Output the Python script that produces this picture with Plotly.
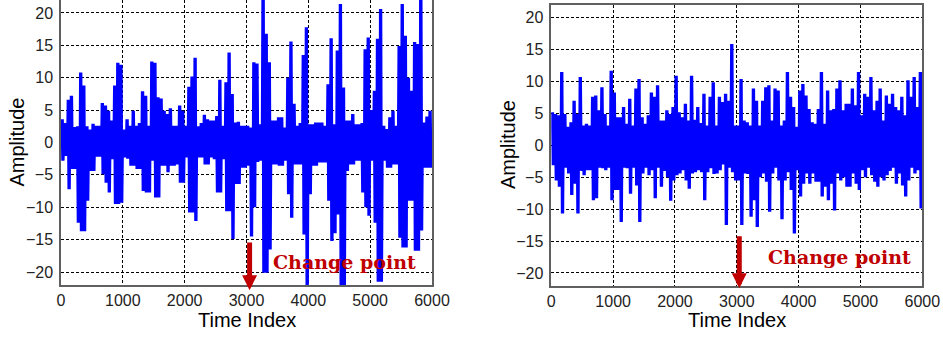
import plotly.graph_objects as go

# Time index axis: 6000 samples, envelopes read per 50-sample bin
BIN = 50
x_ticks = [0, 1000, 2000, 3000, 4000, 5000, 6000]
y_ticks = [-20, -15, -10, -5, 0, 5, 10, 15, 20]
change_point = 3050

# Left signal: per-bin upper / lower envelope (120 bins)
left_hi = [3.6, 3.0, 6.6, 7.2, 2.4, 2.5, 10.8, 8.8, 2.5, 2.0,
           2.9, 2.6, 2.6, 6.1, 5.7, 4.9, 3.4, 8.8, 12.3, 12.0,
           2.0, 3.6, 2.6, 4.9, 2.6, 3.0, 7.9, 7.2, 2.6, 12.5,
           12.3, 7.0, 6.8, 4.9, 4.4, 5.3, 2.6, 2.6, 5.7, 4.9,
           2.6, 8.6, 10.2, 13.1, 2.5, 3.0, 4.3, 3.6, 3.4, 3.4,
           4.1, 9.7, 2.6, 9.3, 13.9, 7.5, 3.1, 3.2, 2.6, 2.6,
           2.6, 2.3, 12.4, 12.2, 2.8, 25.0, 16.8, 12.4, 3.4, 3.4,
           3.9, 3.9, 2.3, 10.0, 15.6, 6.0, 2.6, 3.0, 13.5, 17.8,
           2.8, 2.8, 3.1, 3.1, 3.1, 2.6, 9.0, 16.1, 2.8, 14.2,
           21.4, 8.5, 3.4, 3.4, 4.4, 2.8, 2.8, 3.0, 14.4, 16.2,
           5.0, 8.0, 16.0, 20.6, 2.6, 2.1, 3.9, 4.9, 2.6, 14.9,
           21.4, 16.5, 10.0, 8.0, 15.5, 15.2, 25.0, 3.1, 4.0, 4.9]
left_lo = [-2.8, -2.1, -7.2, -4.1, -4.1, -12.4, -13.7, -13.7, -9.0, -4.4,
           -4.4, -2.2, -2.2, -4.9, -6.2, -7.7, -2.6, -9.5, -9.5, -9.3,
           -2.3, -2.5, -3.6, -3.6, -4.1, -4.1, -7.5, -7.7, -7.7, -2.8,
           -8.5, -8.5, -3.6, -3.6, -4.6, -3.6, -3.6, -3.4, -6.2, -6.2,
           -2.3, -10.8, -10.8, -12.1, -2.3, -2.3, -3.4, -3.4, -2.3, -2.6,
           -7.7, -7.7, -2.6, -10.6, -10.6, -14.9, -6.4, -6.4, -3.9, -3.9,
           -3.6, -14.5, -10.0, -3.0, -2.8, -20.1, -20.1, -16.5, -3.4, -3.4,
           -3.6, -3.6, -2.8, -8.0, -11.6, -3.4, -3.4, -3.4, -14.2, -23.0,
           -8.0, -3.6, -3.6, -3.1, -3.1, -3.1, -9.0, -15.2, -14.0, -11.1,
           -23.0, -23.0, -4.4, -3.4, -3.4, -2.8, -2.8, -7.7, -10.0, -11.3,
           -2.8, -12.4, -21.5, -21.5, -2.8, -3.9, -3.9, -3.4, -3.4, -14.7,
           -16.2, -16.2, -9.0, -9.0, -16.7, -16.7, -13.6, -3.9, -3.9, -3.9]

# Right signal: per-bin upper / lower envelope (120 bins)
right_hi = [5.2, 4.9, 4.7, 11.5, 4.9, 2.9, 3.6, 7.0, 4.9, 10.7,
            3.1, 3.4, 3.1, 7.6, 7.8, 5.5, 9.1, 4.9, 3.1, 11.7,
            8.3, 4.4, 4.4, 6.0, 3.4, 7.3, 3.1, 8.9, 10.4, 4.4,
            3.4, 4.7, 8.3, 7.6, 9.4, 3.9, 3.9, 5.5, 4.9, 6.0,
            10.9, 5.2, 4.4, 6.5, 3.9, 10.9, 4.0, 6.0, 3.5, 8.1,
            3.1, 7.6, 9.9, 3.1, 7.6, 6.8, 8.1, 7.0, 15.9, 3.1,
            3.1, 10.4, 3.9, 3.6, 3.1, 8.9, 7.0, 3.1, 7.0, 9.1,
            9.4, 3.9, 8.9, 8.6, 3.1, 3.9, 11.5, 7.6, 6.0, 2.9,
            8.6, 9.6, 7.8, 5.7, 3.6, 3.4, 5.7, 11.5, 3.4, 8.6,
            5.5, 5.7, 8.9, 10.2, 5.5, 6.5, 6.5, 8.9, 6.3, 11.5,
            4.7, 8.1, 7.6, 10.7, 5.5, 7.0, 8.9, 3.9, 7.8, 6.5,
            8.1, 6.0, 5.5, 7.6, 4.7, 10.2, 7.6, 10.7, 6.0, 11.5]
right_lo = [-3.1, -5.5, -6.5, -10.7, -3.5, -4.4, -7.8, -6.0, -10.7, -4.0,
            -4.7, -3.9, -3.9, -8.6, -8.3, -3.5, -3.6, -3.9, -3.5, -8.6,
            -7.0, -7.0, -12.0, -3.5, -3.6, -7.6, -3.5, -6.3, -12.0, -4.4,
            -3.5, -4.7, -3.9, -8.3, -3.5, -6.5, -4.0, -5.0, -8.7, -5.5,
            -4.7, -4.4, -3.9, -5.5, -6.8, -4.4, -4.2, -3.9, -4.2, -8.6,
            -4.2, -3.6, -4.5, -4.4, -3.9, -3.0, -12.5, -3.5, -4.2, -5.5,
            -5.5, -12.5, -4.4, -4.5, -11.2, -8.6, -12.8, -5.0, -4.4, -5.7,
            -10.4, -4.4, -3.5, -5.5, -11.6, -5.5, -4.2, -7.0, -13.8, -3.9,
            -8.0, -6.0, -4.4, -6.0, -4.4, -5.7, -5.7, -8.0, -6.5, -8.6,
            -6.0, -10.2, -4.4, -5.5, -5.0, -6.5, -6.5, -4.4, -6.0, -7.0,
            -3.9, -5.0, -3.5, -4.7, -5.7, -6.5, -5.0, -5.5, -4.7, -4.0,
            -3.5, -6.0, -4.4, -6.3, -8.0, -5.5, -3.5, -4.4, -3.9, -9.9]


def build(hi, lo):
    """Dense oscillation inside each bin between its read upper and lower envelope."""
    xs, ys = [], []
    for i, (h, l) in enumerate(zip(hi, lo)):
        for k, v in enumerate((h, l, h, l)):
            xs.append(i * BIN + BIN * (k + 0.5) / 4)
            ys.append(v)
    return xs, ys


W, H = 943, 337
fig = go.Figure()
lx, ly = build(left_hi, left_lo)
rx, ry = build(right_hi, right_lo)
fig.add_trace(go.Scatter(x=lx, y=ly, mode="lines", line=dict(color="#0000FF", width=1.8),
                         xaxis="x", yaxis="y", showlegend=False, hoverinfo="skip"))
fig.add_trace(go.Scatter(x=rx, y=ry, mode="lines", line=dict(color="#0000FF", width=1.8),
                         xaxis="x2", yaxis="y2", showlegend=False, hoverinfo="skip"))

tickfont = dict(family="Liberation Sans, Arial, sans-serif", size=16, color="#222222")
common_x = dict(range=[0, 6000], tickvals=x_ticks, showgrid=True, gridcolor="#000000",
                griddash="3px,2px", gridwidth=1, zeroline=False, showline=True, mirror=True,
                linecolor="#606060", linewidth=1.5, ticks="", tickfont=tickfont,
                ticklabelstandoff=0, automargin=False, fixedrange=True)
common_y = dict(range=[-22, 22], tickvals=y_ticks, showgrid=True, gridcolor="#000000",
                griddash="3px,2px", gridwidth=1, zeroline=False, showline=True, mirror=True,
                linecolor="#606060", linewidth=1.5, ticks="", tickfont=tickfont,
                ticklabelstandoff=3, automargin=False, fixedrange=True)

L0, L1 = 61 / W, 432 / W
R0, R1 = 551.3 / W, 922.3 / W
fig.update_layout(
    template="none",
    width=W, height=H, autosize=False, margin=dict(l=0, r=0, t=0, b=0, pad=0),
    paper_bgcolor="white", plot_bgcolor="white",
    xaxis=dict(domain=[L0, L1], anchor="y", **common_x),
    yaxis=dict(domain=[(H - 285) / H, 1.0], anchor="x", **common_y),
    xaxis2=dict(domain=[R0, R1], anchor="y2", **common_x),
    yaxis2=dict(domain=[(H - 285.7) / H, (H - 5) / H], anchor="x2", **common_y),
)

title_font = dict(family="Liberation Sans, Arial, sans-serif", size=20, color="#000000")
cp_font = dict(family="DejaVu Serif", size=19, color="#C00000")
ann = []
for cx, cy in [((L0 + L1) / 2, (H - 319.5) / H), ((R0 + R1) / 2, (H - 320.0) / H)]:
    ann.append(dict(text="Time Index", x=cx, y=cy, xref="paper", yref="paper",
                    showarrow=False, font=title_font, xanchor="center", yanchor="middle"))
ann.append(dict(text="Amplitude", x=16 / W, y=(H - 142.5) / H, xref="paper", yref="paper",
                showarrow=False, font=title_font, textangle=-90, xanchor="center", yanchor="middle"))
ann.append(dict(text="Amplitude", x=508 / W, y=(H - 145) / H, xref="paper", yref="paper",
                showarrow=False, font=title_font, textangle=-90, xanchor="center", yanchor="middle"))
# arrows marking change point
ann.append(dict(x=change_point, y=-22.8, ax=change_point, ay=-15.2, xref="x", yref="y",
                axref="x", ayref="y", showarrow=True, arrowhead=2, arrowsize=0.6,
                arrowwidth=5, arrowcolor="#C00000", text=""))
ann.append(dict(x=change_point - 10, y=-22.4, ax=change_point - 10, ay=-14.0, xref="x2", yref="y2",
                axref="x2", ayref="y2", showarrow=True, arrowhead=2, arrowsize=0.6,
                arrowwidth=5, arrowcolor="#C00000", text=""))
ann.append(dict(text="<b>Change point</b>", x=344.5 / W, y=(H - 261.7) / H, xref="paper", yref="paper",
                showarrow=False, font=cp_font, xanchor="center", yanchor="middle"))
ann.append(dict(text="<b>Change point</b>", x=839.5 / W, y=(H - 256.7) / H, xref="paper", yref="paper",
                showarrow=False, font=cp_font, xanchor="center", yanchor="middle"))
fig.update_layout(annotations=ann)

fig.write_html("out.html", config={"responsive": False})
